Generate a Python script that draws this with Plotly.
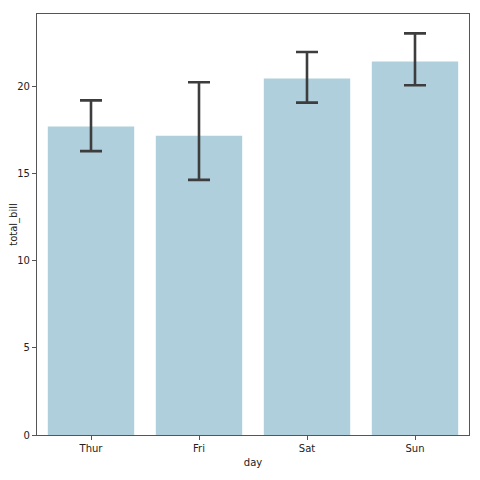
import plotly.graph_objects as go

days = ["Thur", "Fri", "Sat", "Sun"]
means = [17.68, 17.15, 20.44, 21.41]
ci_low = [16.27, 14.62, 19.05, 20.05]
ci_high = [19.18, 20.22, 21.95, 23.02]

err_plus = [h - m for h, m in zip(ci_high, means)]
err_minus = [m - l for m, l in zip(means, ci_low)]

fig = go.Figure(go.Bar(
    x=days, y=means, width=0.8,
    marker=dict(color="#aecfdb", line=dict(width=0)),
    error_y=dict(type="data", symmetric=False, array=err_plus, arrayminus=err_minus,
                 color="#3d3d3d", thickness=2.6, width=11),
))
axis_common = dict(showline=True, linecolor="#555555", linewidth=1.2, mirror=True,
                   ticks="outside", ticklen=4, tickcolor="#555555", showgrid=False,
                   zeroline=False, automargin=False, tickfont=dict(size=10, color="#222222"))
fig.update_layout(
    width=480, height=480,
    margin=dict(l=29, r=19, t=6, b=53),
    plot_bgcolor="white", paper_bgcolor="white",
    font=dict(family="DejaVu Sans", size=10, color="#222222"),
    showlegend=False,
    xaxis=dict(title=dict(text="day", standoff=5, font=dict(size=10)), range=[-0.5, 3.5], **axis_common),
    yaxis=dict(title=dict(text="total_bill", standoff=2, font=dict(size=10)), range=[0, 24.13],
               tickvals=[0, 5, 10, 15, 20], **axis_common),
)
fig.write_html("out.html")
